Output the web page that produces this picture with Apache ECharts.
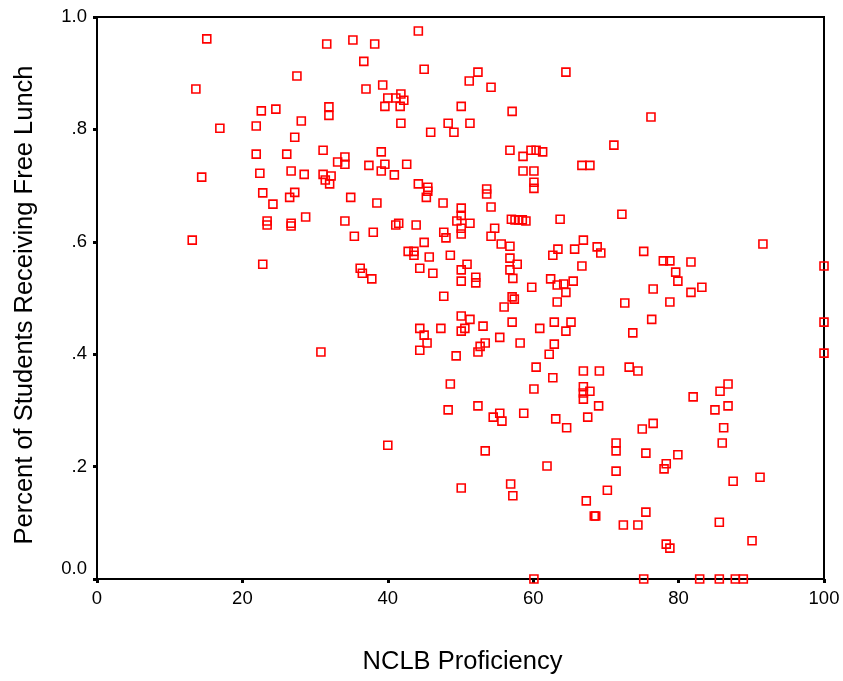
<!DOCTYPE html>
<html>
<head>
<meta charset="utf-8">
<script src="https://cdn.jsdelivr.net/npm/echarts@6/dist/echarts.min.js"></script>
<style>html,body{margin:0;padding:0;background:#fff}#c{width:843px;height:681px}</style>
</head>
<body>
<div id="c"></div>
<script>
const proficiency = [
15.1,13.6,14.4,13.1,16.9,21.9,22.6,24.6,21.9,22.4,22.8,24.2,23.4,23.4,22.8,27.5,28.1,27.2,26.1,26.7,
28.5,27.2,26.5,26.7,26.7,28.7,31.6,31.9,31.9,31.1,31.1,32.2,31.4,32.0,33.1,34.1,34.1,34.9,34.1,35.4,
36.2,36.5,37.8,38.0,30.8,35.2,38.2,44.2,45.0,36.7,37.0,39.3,40.0,41.1,41.8,42.2,39.6,41.7,41.8,37.4,
39.1,39.6,39.1,40.9,42.6,38.5,44.2,45.5,45.5,45.3,47.6,45.9,48.3,49.1,50.1,51.2,51.3,52.4,54.2,53.6,
53.6,54.2,50.1,50.1,41.1,41.5,43.9,49.5,51.3,50.1,50.1,47.7,48.0,54.7,54.2,45.0,42.8,43.6,43.6,45.7,
48.6,44.4,46.2,50.9,50.1,52.1,52.1,50.1,47.7,55.6,56.8,56.8,56.8,57.2,57.8,57.1,57.4,56.0,57.1,50.1,
51.3,50.6,50.1,53.1,44.4,45.0,45.4,44.4,47.3,49.4,53.4,52.7,52.4,55.4,58.2,48.6,48.3,52.4,54.5,55.4,
55.7,40.0,53.4,50.1,56.9,57.2,58.7,57.1,56.8,58.6,58.6,60.1,60.1,60.1,59.7,60.4,61.3,57.0,57.5,58.0,
58.5,59.0,63.7,72.2,66.9,63.4,62.7,65.7,68.8,69.3,66.7,75.2,77.9,78.8,81.7,79.6,79.9,62.4,63.3,64.2,
65.5,59.8,64.5,63.3,76.5,81.7,83.2,72.6,78.8,62.9,65.2,60.9,64.5,76.3,73.7,62.9,62.2,60.4,62.7,66.9,
69.1,73.2,74.4,60.1,66.9,66.9,66.9,67.8,82.0,69.0,63.1,64.6,67.5,75.0,76.5,71.4,71.4,75.5,79.9,78.3,
78.0,61.9,71.4,70.2,67.3,68.4,68.6,72.4,74.4,75.5,78.3,78.8,60.1,75.2,82.9,85.6,87.8,88.9,86.8,85.7,
85.0,86.8,86.2,86.0,87.5,91.2,85.6,90.1,91.6,100,100,100,64.5,76.2,71.1,66.7,67.8
];
const freeLunch = [
.961,.872,.715,.603,.802,.806,.833,.836,.756,.722,.687,.667,.637,.630,.560,.895,.815,.786,.756,.726,
.720,.688,.679,.633,.628,.644,.952,.840,.825,.763,.720,.717,.710,.703,.742,.751,.738,.679,.637,.610,
.553,.544,.534,.617,.404,.959,.952,.975,.907,.921,.872,.879,.856,.856,.863,.852,.841,.841,.811,.736,
.760,.738,.726,.719,.738,.669,.703,.697,.690,.679,.669,.795,.811,.795,.841,.886,.811,.902,.875,.694,
.685,.662,.660,.647,.630,.633,.630,.637,.633,.624,.614,.617,.607,.624,.610,.599,.583,.583,.576,.573,
.576,.553,.544,.560,.550,.537,.527,.530,.503,.596,.592,.571,.550,.535,.560,.502,.498,.484,.457,.468,
.462,.446,.441,.450,.446,.434,.420,.407,.446,.397,.420,.414,.404,.430,.420,.347,.301,.308,.288,.295,
.281,.238,.228,.162,.169,.148,.295,.832,.763,.752,.726,.726,.706,.695,.763,.763,.760,.640,.639,.639,
.639,.637,.640,.649,.603,.587,.576,.587,.591,.580,.557,.583,.566,.566,.564,.546,.530,.534,.523,.525,
.530,.519,.510,.493,.516,.510,.519,.491,.493,.457,.457,.446,.441,.462,.438,.418,.400,.377,.358,.370,
.370,.377,.370,.338,.342,.331,.320,.334,.324,.308,.285,.269,.288,.267,.277,.242,.228,.224,.221,.205,
.196,.201,.192,.158,.139,.112,.112,.096,.096,.119,.062,.055,0,0,0,0,0,0,.347,.334,
.301,.308,.269,.242,.174,.181,.101,.068,.596,.557,.457,.402,.902,.822,.772,.736,.736
];
const xTicks = [0, 20, 40, 60, 80, 100];
const yTickLabels = {0: '0.0', 0.2: '.2', 0.4: '.4', 0.6: '.6', 0.8: '.8', 1: '1.0'};

const points = proficiency.map((x, i) => [x, freeLunch[i]]);
const font = 'Liberation Sans, Arial, sans-serif';

const chart = echarts.init(document.getElementById('c'), null, {renderer: 'canvas'});
chart.setOption({
  animation: false,
  backgroundColor: '#fff',
  grid: {left: 97, right: 19, top: 17, bottom: 102, show: true, borderColor: '#000', borderWidth: 2, containLabel: false},
  xAxis: {
    type: 'value', min: xTicks[0], max: xTicks[xTicks.length - 1], interval: 20,
    name: 'NCLB Proficiency', nameLocation: 'middle', nameGap: 70,
    nameTextStyle: {fontFamily: font, fontSize: 25.5, color: '#000', padding: [0, 0, 0, 4]},
    axisLine: {show: true, lineStyle: {color: '#000', width: 2}},
    axisTick: {show: true, length: 4, lineStyle: {color: '#000', width: 3}},
    axisLabel: {fontFamily: font, fontSize: 18.5, color: '#000', margin: 10},
    splitLine: {show: false}
  },
  yAxis: {
    type: 'value', min: 0, max: 1, interval: 0.2,
    name: 'Percent of Students Receiving Free Lunch', nameLocation: 'middle', nameGap: 59,
    nameTextStyle: {fontFamily: font, fontSize: 25.5, color: '#000', padding: [0, 14, 0, 0]},
    axisLine: {show: true, lineStyle: {color: '#000', width: 2}},
    axisTick: {show: true, length: 4, lineStyle: {color: '#000', width: 3}},
    axisLabel: {
      fontFamily: font, fontSize: 18.5, color: '#000', margin: 10,
      formatter: v => {
        const k = Math.round(v * 10) / 10;
        const t = yTickLabels[k];
        return k === 0 ? '{z|' + t + '}' : t;
      },
      rich: {z: {fontFamily: font, fontSize: 18.5, color: '#000', padding: [0, 0, 20, 0]}}
    },
    splitLine: {show: false}
  },
  series: [{
    type: 'scatter',
    data: points,
    symbol: 'rect',
    symbolSize: 8,
    itemStyle: {color: 'rgba(255,255,255,0)', borderColor: '#ff0000', borderWidth: 1.6, opacity: 1}
  }]
});
</script>
</body>
</html>
